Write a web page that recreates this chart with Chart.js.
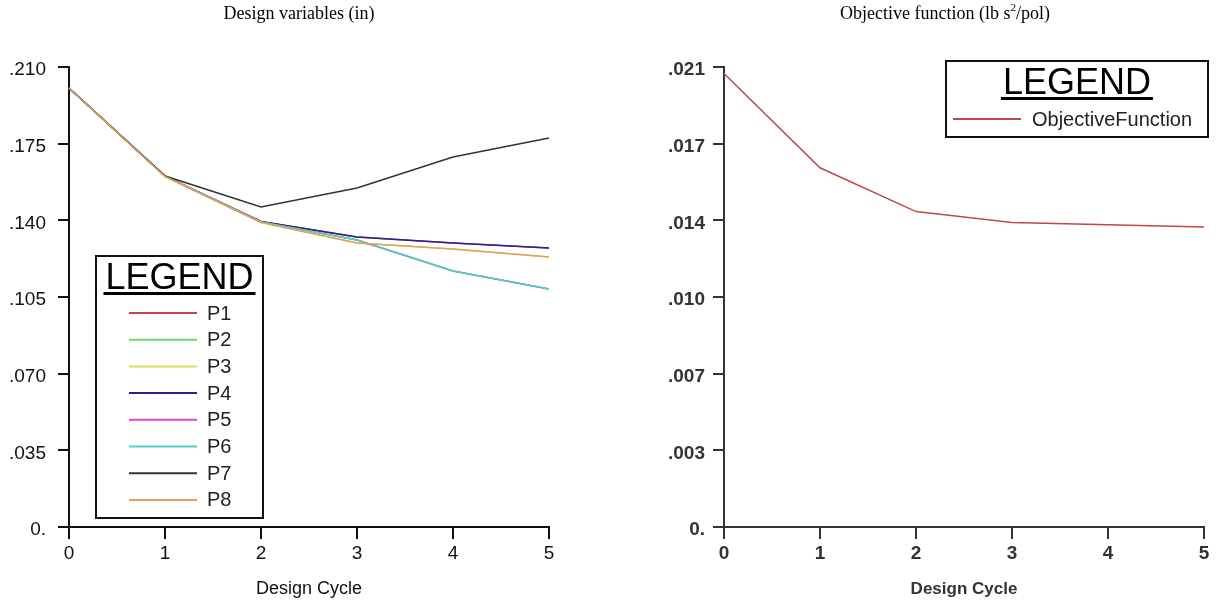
<!DOCTYPE html>
<html>
<head>
<meta charset="utf-8">
<script src="https://cdn.jsdelivr.net/npm/chart.js@4"></script>
<style>
  body { margin: 0; background: #fff; width: 1219px; height: 603px; overflow: hidden; position: relative; }
  canvas { position: absolute; top: 0; }
  #left { left: 0; }
  #right { left: 655px; }
</style>
</head>
<body>
<canvas id="left" width="609" height="603"></canvas>
<canvas id="right" width="564" height="603"></canvas>
<script>
// design cycles (x axis)
const cycles = ['0', '1', '2', '3', '4', '5']

// design variables (in)
const p1 = [0.2004, 0.1602, 0.1395, 0.1324, 0.1297, 0.1274]
const p2 = [0.2004, 0.1602, 0.1393, 0.1310, 0.1169, 0.1087]
const p3 = [0.2004, 0.1600, 0.1390, 0.1297, 0.1269, 0.1233]
const p4 = [0.2004, 0.1602, 0.1395, 0.1324, 0.1297, 0.1274]
const p5 = [0.2004, 0.1602, 0.1393, 0.1310, 0.1169, 0.1087]
const p6 = [0.2004, 0.1602, 0.1393, 0.1310, 0.1169, 0.1087]
const p7 = [0.2004, 0.1602, 0.1461, 0.1548, 0.1689, 0.1776]
const p8 = [0.2004, 0.1600, 0.1390, 0.1297, 0.1269, 0.1233]

// objective function (lb s2/pol)
const objective = [0.0207, 0.0164, 0.0144, 0.0139, 0.0138, 0.0137]

const leftTicks = ['0.', '.035', '.070', '.105', '.140', '.175', '.210']
const rightTicks = ['0.', '.003', '.007', '.010', '.014', '.017', '.021']

const narrow = '"Liberation Sans Narrow", "Liberation Sans", Arial, sans-serif'
const sans = '"Liberation Sans", Arial, sans-serif'

// title on top, with superscript support
const topTitle = {
  id: 'topTitle',
  afterDraw(chart, args, o) {
    const ctx = chart.ctx
    ctx.save()
    ctx.fillStyle = '#000'
    ctx.textBaseline = 'alphabetic'
    ctx.textAlign = 'left'
    const big = '18px "Liberation Serif", "Times New Roman", serif'
    const small = '11px "Liberation Serif", "Times New Roman", serif'
    let total = 0
    o.parts.forEach(p => { ctx.font = p.sup ? small : big; total += ctx.measureText(p.t).width })
    let x = o.cx - total / 2
    o.parts.forEach(p => {
      ctx.font = p.sup ? small : big
      ctx.fillText(p.t, x, p.sup ? o.y - 8 : o.y)
      x += ctx.measureText(p.t).width
    })
    ctx.restore()
  }
}

// boxed "LEGEND" like the original plot program
const boxLegend = {
  id: 'boxLegend',
  afterDraw(chart, args, o) {
    const ctx = chart.ctx
    ctx.save()
    ctx.fillStyle = '#fff'
    ctx.fillRect(o.x, o.y, o.w, o.h)
    ctx.strokeStyle = '#111'
    ctx.lineWidth = 2
    ctx.strokeRect(o.x, o.y, o.w, o.h)
    ctx.fillStyle = '#000'
    ctx.font = '36px ' + sans
    ctx.textAlign = 'center'
    ctx.textBaseline = 'alphabetic'
    const cx = o.x + o.w / 2
    ctx.fillText('LEGEND', cx, o.y + 33)
    const tw = ctx.measureText('LEGEND').width
    ctx.fillRect(cx - tw / 2 - 2, o.y + 36, tw + 4, 3)
    ctx.font = '20px ' + sans
    ctx.textAlign = 'left'
    ctx.textBaseline = 'middle'
    chart.data.datasets.forEach((ds, i) => {
      const y = o.y + o.first + i * o.row
      ctx.strokeStyle = ds.borderColor
      ctx.lineWidth = 2
      ctx.beginPath()
      ctx.moveTo(o.x + o.l0, y)
      ctx.lineTo(o.x + o.l1, y)
      ctx.stroke()
      ctx.fillStyle = '#222'
      ctx.fillText(ds.label, o.x + o.tx, y + 1)
    })
    ctx.restore()
  }
}

const axes = (max, labels, tickFont, titleFont, color, pad) => ({
  x: {
    grid: { drawOnChartArea: false, drawTicks: true, tickLength: 12, color: color, lineWidth: 2 },
    border: { color: color, width: 2 },
    ticks: { color: color, font: tickFont, padding: 3, maxRotation: 0 },
    title: { display: true, text: 'Design Cycle', color: color, font: titleFont, padding: { top: 4, bottom: 3 } },
    afterFit: s => { s.height = 76 }
  },
  y: {
    min: 0,
    max: max,
    grid: { drawOnChartArea: false, drawTicks: true, tickLength: 11, color: color, lineWidth: 2 },
    border: { color: color, width: 2 },
    ticks: { stepSize: max / 6, color: color, font: tickFont, padding: pad, labelOffset: 3, callback: (v, i) => labels[i] },
    afterFit: s => { s.width = 69 }
  }
})

const line = (label, data, color, order) => ({
  label, data, borderColor: color, backgroundColor: color, borderWidth: 1.5, pointRadius: 0, tension: 0, order
})

new Chart(document.querySelector('#left'), {
  type: 'line',
  data: {
    labels: cycles,
    datasets: [
      line('P1', p1, '#c04a4a', 8),
      line('P2', p2, '#66dd66', 7),
      line('P3', p3, '#dede5a', 6),
      line('P4', p4, '#24248c', 5),
      line('P5', p5, '#dd44dd', 4),
      line('P6', p6, '#4cd2c4', 3),
      line('P7', p7, '#333333', 2),
      line('P8', p8, '#e0a060', 1)
    ]
  },
  options: {
    responsive: false,
    animation: false,
    layout: { padding: { top: 67, right: 60, bottom: 0, left: 0 } },
    plugins: {
      legend: { display: false },
      tooltip: { enabled: false },
      topTitle: { cx: 299, y: 19, parts: [{ t: 'Design variables (in)' }] },
      boxLegend: { x: 96, y: 256, w: 167, h: 262, first: 57, row: 26.7, l0: 33, l1: 101, tx: 111 }
    },
    scales: axes(0.21, leftTicks, { family: narrow, size: 19 }, { family: sans, size: 18 }, '#111', 12)
  },
  plugins: [topTitle, boxLegend]
})

new Chart(document.querySelector('#right'), {
  type: 'line',
  data: {
    labels: cycles,
    datasets: [line('ObjectiveFunction', objective, '#c04848', 1)]
  },
  options: {
    responsive: false,
    animation: false,
    layout: { padding: { top: 67, right: 15, bottom: 0, left: 0 } },
    plugins: {
      legend: { display: false },
      tooltip: { enabled: false },
      topTitle: { cx: 290, y: 19, parts: [{ t: 'Objective function (lb s' }, { t: '2', sup: true }, { t: '/pol)' }] },
      boxLegend: { x: 291, y: 61, w: 262, h: 76, first: 58, row: 26.7, l0: 7, l1: 75, tx: 86 }
    },
    scales: axes(0.021, rightTicks, { family: narrow, size: 19, weight: 'bold' }, { family: sans, size: 17, weight: 'bold' }, '#333', 8)
  },
  plugins: [topTitle, boxLegend]
})
</script>
</body>
</html>
